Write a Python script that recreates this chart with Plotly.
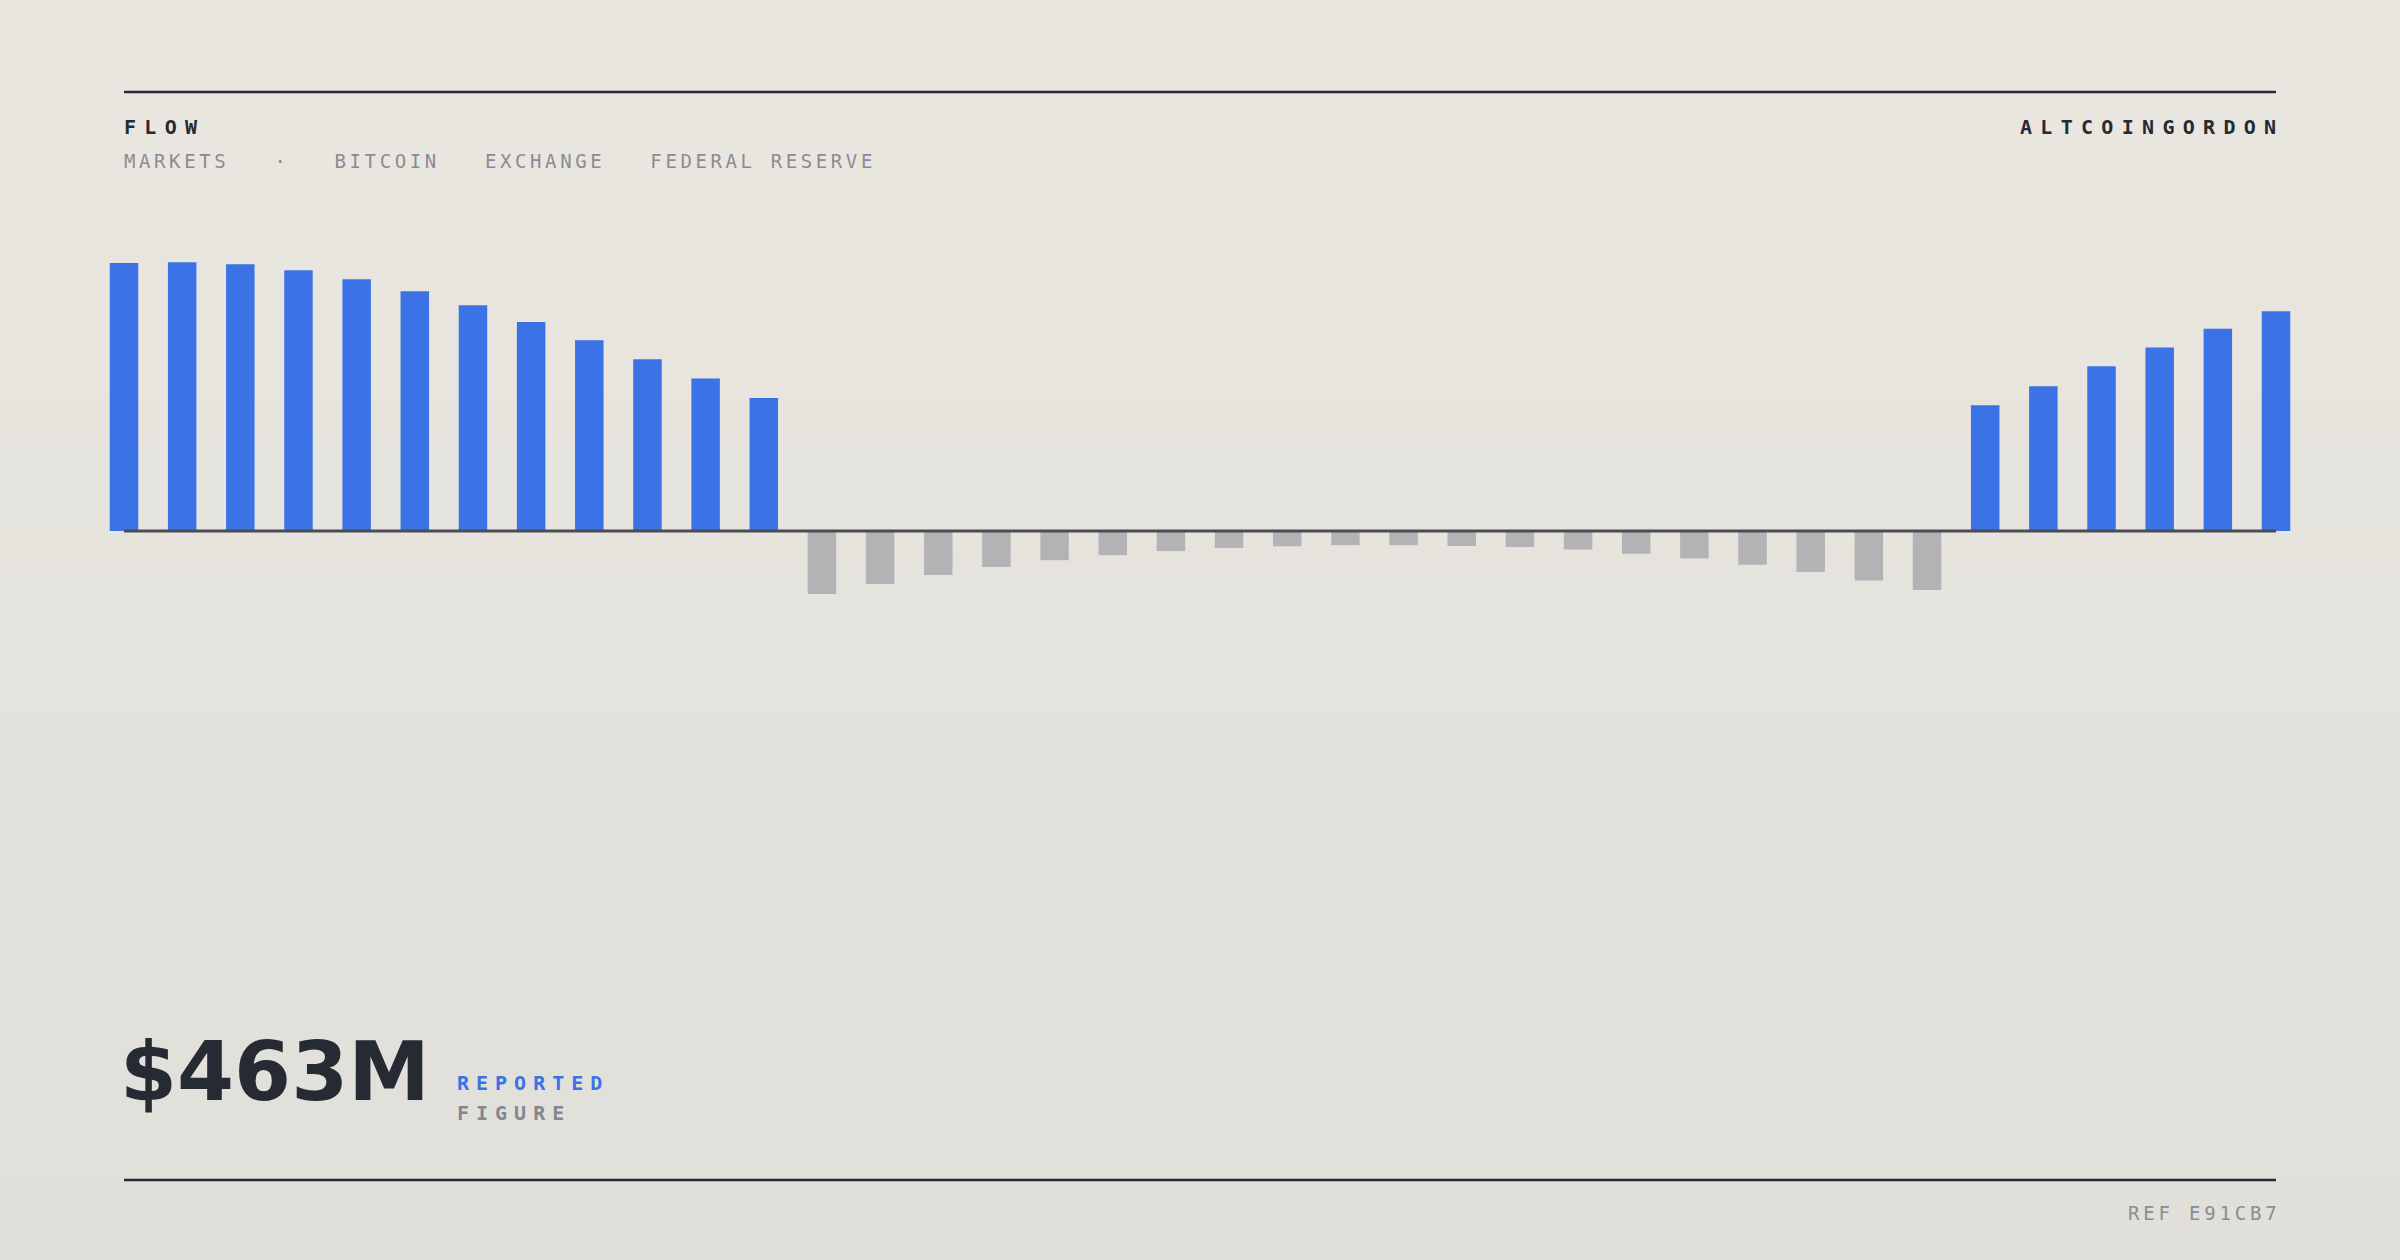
import plotly.graph_objects as go

W, H = 2400, 1260

# ---- data ----
periods = [f"P{i:02d}" for i in range(1, 39)]
flow_values = [100.0, 100.3, 99.5, 97.3, 93.9, 89.5, 84.2, 78.0, 71.2, 64.1, 56.9, 49.6,
               -23.5, -19.8, -16.4, -13.4, -10.9, -9.0, -7.5, -6.3, -5.7, -5.3,
               -5.3, -5.6, -6.0, -6.9, -8.5, -10.2, -12.6, -15.3, -18.5, -22.0,
               46.9, 54.0, 61.5, 68.5, 75.5, 82.0]
title_text = "FLOW"
subtitle_parts = ["MARKETS", "·", "BITCOIN", "EXCHANGE", "FEDERAL RESERVE"]
brand_text = "ALTCOINGORDON"
headline_value = "$463M"
headline_label_1 = "REPORTED"
headline_label_2 = "FIGURE"
ref_text = "REF E91CB7"

# ---- styles ----
BLUE = "#3B73E6"
GRAY_BAR = "#B3B3B5"
INK = "#262A33"
MUTED = "#8A8C93"
MONO = "DejaVu Sans Mono"

def px_x(px):
    return px / W

def px_y(px):
    return 1 - px / H

def spaced(text, sp):
    return f'<span style="letter-spacing:{sp}px">{text}</span>'

bar_colors = [BLUE if v >= 0 else GRAY_BAR for v in flow_values]

fig = go.Figure(go.Bar(
    x=periods, y=flow_values,
    marker=dict(color=bar_colors, line=dict(width=0)),
    hoverinfo="skip",
))

# plot geometry: first bar centre at 124px, last at 2276px, baseline at 531px
x_left, x_right = 124, 2276
pitch = (x_right - x_left) / (len(periods) - 1)
dom0 = (x_left - pitch / 2) / W
dom1 = (x_right + pitch / 2) / W
base_px = 531
unit_px = 2.68
y_top = base_px / unit_px
y_bot = -(H - base_px) / unit_px

shapes = []
# background vertical gradient
top_c = (234, 231, 224)
bot_c = (224, 223, 218)
n = 60
for i in range(n):
    t = i / (n - 1)
    c = tuple(round(top_c[k] + (bot_c[k] - top_c[k]) * t) for k in range(3))
    shapes.append(dict(type="rect", xref="paper", yref="paper", layer="below",
                       x0=0, x1=1, y0=1 - (i + 1) / n - 0.001, y1=1 - i / n,
                       fillcolor=f"rgb{c}", line=dict(width=0)))
# rules
for ypx in (92, 1180):
    shapes.append(dict(type="line", xref="paper", yref="paper",
                       x0=px_x(x_left), x1=px_x(x_right), y0=px_y(ypx), y1=px_y(ypx),
                       line=dict(color=INK, width=2.5)))
# zero baseline
shapes.append(dict(type="line", xref="paper", yref="y", layer="above",
                   x0=px_x(x_left), x1=px_x(x_right), y0=0, y1=0,
                   line=dict(color="#4A4D55", width=3)))

nb = "\u00a0"
subtitle = (nb * 3).join(subtitle_parts).replace(" ", nb)

annotations = [
    dict(text=spaced(title_text, 8.3), x=px_x(122), y=px_y(127), xanchor="left", yanchor="middle",
         font=dict(family=MONO, size=20, color=INK, weight="bold")),
    dict(text=spaced(subtitle, 3.6), x=px_x(122), y=px_y(160.5), xanchor="left", yanchor="middle",
         font=dict(family=MONO, size=19, color=MUTED)),
    dict(text=spaced(brand_text, 8.3), x=px_x(2278 + 8.3), y=px_y(127), xanchor="right", yanchor="middle",
         font=dict(family=MONO, size=20, color=INK, weight="bold")),
    dict(text=headline_value, x=px_x(118), y=px_y(1071), xanchor="left", yanchor="middle",
         font=dict(family="DejaVu Sans", size=82, color=INK, weight="bold")),
    dict(text=spaced(headline_label_1, 7), x=px_x(455), y=px_y(1083), xanchor="left", yanchor="middle",
         font=dict(family=MONO, size=20, color=BLUE, weight="bold")),
    dict(text=spaced(headline_label_2, 7), x=px_x(455), y=px_y(1113), xanchor="left", yanchor="middle",
         font=dict(family=MONO, size=20, color="#85878F", weight="bold")),
    dict(text=spaced(ref_text, 3.8), x=px_x(2278 + 3.8), y=px_y(1212.5), xanchor="right", yanchor="middle",
         font=dict(family=MONO, size=19, color=MUTED)),
]
for a in annotations:
    a.update(xref="paper", yref="paper", showarrow=False)

fig.update_layout(
    width=W, height=H,
    margin=dict(l=0, r=0, t=0, b=0),
    paper_bgcolor="#E6E4DE",
    plot_bgcolor="rgba(0,0,0,0)",
    showlegend=False,
    bargap=0.51,
    xaxis=dict(domain=[dom0, dom1], range=[-0.5, len(periods) - 0.5], visible=False, fixedrange=True),
    yaxis=dict(domain=[0, 1], range=[y_bot, y_top], visible=False, fixedrange=True),
    shapes=shapes,
    annotations=annotations,
    hovermode=False,
)

fig.write_html(
    "out.html",
    config={"displayModeBar": False, "staticPlot": True},
    post_script="document.body.style.margin='0';document.body.style.padding='0';"
                "document.body.style.overflow='hidden';",
)
